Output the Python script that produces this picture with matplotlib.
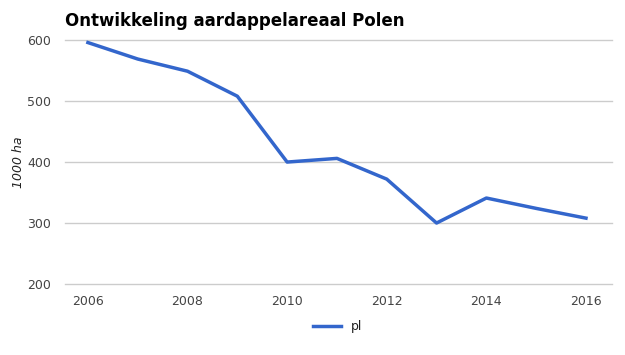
import matplotlib.pyplot as plt

years = [2006, 2007, 2008, 2009, 2010, 2011, 2012, 2013, 2014, 2015, 2016]
pl = [596, 569, 549, 508, 400, 406, 372, 300, 341, 324, 308]
yticks = [200, 300, 400, 500, 600]
xticks = [2006, 2008, 2010, 2012, 2014, 2016]

fig = plt.figure(figsize=(6.25, 3.55), dpi=100)
ax = fig.add_axes([0.104, 0.2, 0.875, 0.687])

ax.plot(years, pl, color='#3366cc', lw=2.5, label='pl')

ax.set_ylim(200, 600)
ax.set_xlim(2005.54, 2016.52)
ax.set_yticks(yticks)
ax.set_xticks(xticks)
ax.grid(axis='y', color='#cccccc', lw=1)
for gl in ax.get_ygridlines():
    gl.set_clip_on(False)
ax.set_axisbelow(True)
for s in ax.spines.values():
    s.set_visible(False)
ax.tick_params(length=0, labelsize=9, colors='#444444')
ax.tick_params(axis='y', pad=10)
ax.tick_params(axis='x', pad=8)

# y-as label als losse tekst, anders valt hij buiten beeld
fig.text(0.03, 0.543, '1000 ha', fontsize=9, style='italic', color='#222222',
         rotation=90, ha='center', va='center')
fig.text(0.104, 0.94, 'Ontwikkeling aardappelareaal Polen', fontsize=12,
         fontweight='bold', ha='left', va='center', color='#000000')

fig.legend(loc='center', bbox_to_anchor=(0.54, 0.08), frameon=False,
           fontsize=9, handlelength=2.2, labelcolor='#222222')

fig.savefig('out.png', dpi=100)
